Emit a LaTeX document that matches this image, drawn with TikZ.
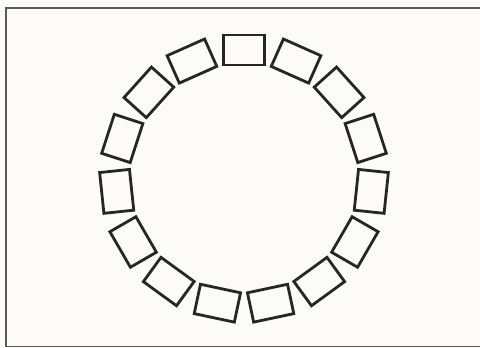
\documentclass[tikz,border=0pt]{standalone}
\usetikzlibrary{calc}
\begin{document}
\begin{tikzpicture}[x=1pt,y=1pt,
  seat/.style={draw=black!85, line width=2.8pt, rectangle, inner sep=0pt,
    minimum width=41pt, minimum height=30pt},
  frameline/.style={draw=black!65, line width=1.1pt}]
\fill[color={rgb,255:red,253;green,251;blue,247}] (0,0) rectangle (480,348);
\useasboundingbox (0,0) rectangle (480,348);
\coordinate (c) at (244,170);
\foreach \k in {0,...,14}{
  \pgfmathsetmacro{\ang}{90-24*\k}
  \node[seat, rotate=\ang-90] (b\k) at ($(c)+(\ang:128)$) {};
}
\coordinate (fbl) at (6,1.5);
\coordinate (ftl) at (6,340);
\coordinate (ftr) at (490,340);
\coordinate (fbr) at (490,1.5);
\draw[frameline] (ftr) -- (ftl) -- (fbl) -- (fbr);
\end{tikzpicture}
\end{document}
